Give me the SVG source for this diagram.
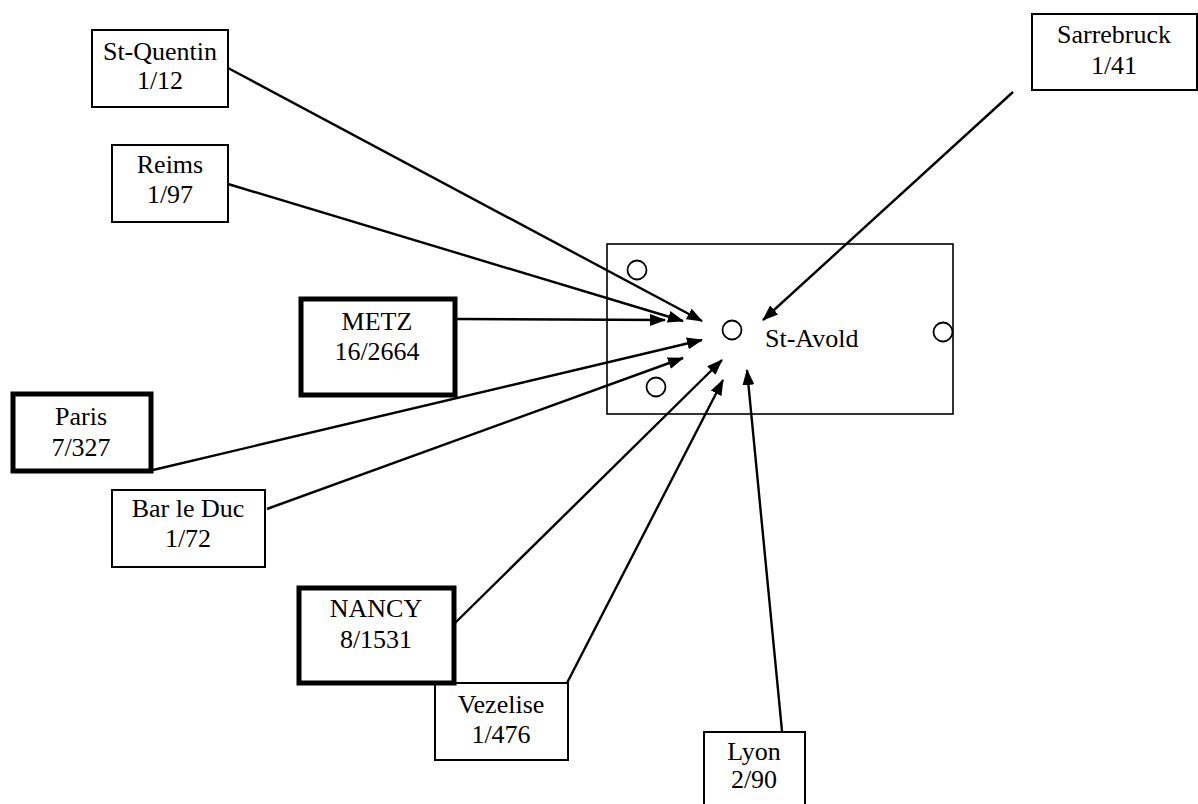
<svg xmlns="http://www.w3.org/2000/svg" width="1198" height="804" viewBox="0 0 1198 804">
<defs>
<style>
.box{fill:#fff;stroke:#000;stroke-width:2}
.thick{fill:#fff;stroke:#000;stroke-width:5}
.t{font-family:"Liberation Serif","Times New Roman",serif;font-size:26px;fill:#000;text-anchor:middle}
.c{fill:#fff;stroke:#000;stroke-width:1.8}
.e{stroke:#000;stroke-width:2.4;fill:none;marker-end:url(#ah)}
</style>
<marker id="ah" markerUnits="userSpaceOnUse" markerWidth="16" markerHeight="12" viewBox="0 0 16 12" refX="15" refY="6" orient="auto">
<path d="M0,0 L16,6 L0,12 Z" fill="#000"/>
</marker>
</defs>
<rect width="1198" height="804" fill="#fff"/>
<g id="st-avold">
<rect x="607" y="244" width="346" height="170" fill="#fff" stroke="#000" stroke-width="1.6"/>
<circle class="c" cx="637" cy="270" r="9.5"/>
<circle class="c" cx="732" cy="330" r="9.5"/>
<circle class="c" cx="943" cy="332" r="9.5"/>
<circle class="c" cx="656" cy="387" r="9.5"/>
<text class="t" x="765" y="347" style="text-anchor:start">St-Avold</text>
</g>
<g id="connectors">
<line class="e" x1="228" y1="68" x2="702" y2="321"/>
<line class="e" x1="228" y1="184" x2="683" y2="321"/>
<line class="e" x1="457" y1="319" x2="665" y2="320"/>
<line class="e" x1="153" y1="470" x2="702" y2="340"/>
<line class="e" x1="267" y1="509" x2="683" y2="358"/>
<line class="e" x1="455" y1="623" x2="722" y2="360"/>
<line class="e" x1="567" y1="683" x2="723" y2="380"/>
<line class="e" x1="782" y1="731" x2="747" y2="370"/>
<line class="e" x1="1013" y1="92" x2="763" y2="320"/>
</g>
<g id="st-quentin">
<rect class="box" x="92" y="30" width="136" height="77"/>
<text class="t" x="160" y="60">St-Quentin</text>
<text class="t" x="160" y="89">1/12</text>
</g>
<g id="reims">
<rect class="box" x="112" y="145" width="116" height="77"/>
<text class="t" x="170" y="173">Reims</text>
<text class="t" x="170" y="203">1/97</text>
</g>
<g id="sarrebruck">
<rect class="box" x="1032" y="14" width="165" height="76"/>
<text class="t" x="1114" y="43">Sarrebruck</text>
<text class="t" x="1114" y="74">1/41</text>
</g>
<g id="metz">
<rect class="thick" x="301" y="299" width="154" height="96"/>
<text class="t" x="377" y="330">METZ</text>
<text class="t" x="377" y="360">16/2664</text>
</g>
<g id="paris">
<rect class="thick" x="13" y="394" width="138" height="77"/>
<text class="t" x="81" y="425">Paris</text>
<text class="t" x="81" y="456">7/327</text>
</g>
<g id="bar-le-duc">
<rect class="box" x="112" y="490" width="153" height="77"/>
<text class="t" x="188" y="517">Bar le Duc</text>
<text class="t" x="188" y="547">1/72</text>
</g>
<g id="vezelise">
<rect class="box" x="435" y="683" width="133" height="77"/>
<text class="t" x="501" y="713">Vezelise</text>
<text class="t" x="501" y="743">1/476</text>
</g>
<g id="nancy">
<rect class="thick" x="299" y="588" width="155" height="95"/>
<text class="t" x="376" y="617">NANCY</text>
<text class="t" x="376" y="648">8/1531</text>
</g>
<g id="lyon">
<rect class="box" x="704" y="732" width="101" height="76"/>
<text class="t" x="754" y="760">Lyon</text>
<text class="t" x="754" y="788">2/90</text>
</g>
</svg>
